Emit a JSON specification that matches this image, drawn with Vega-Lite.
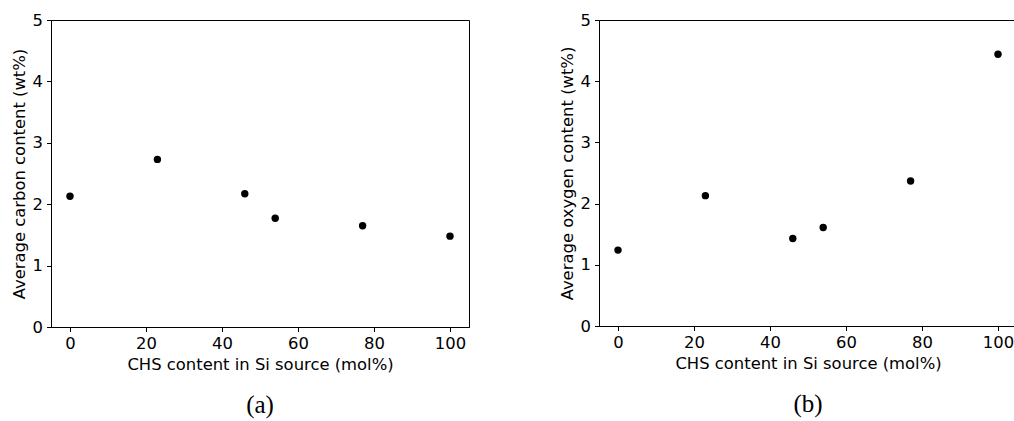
{
  "$schema": "https://vega.github.io/schema/vega-lite/v6.json",
  "padding": {"left": 10, "top": 11, "right": 0, "bottom": 0},
  "background": "white",
  "spacing": 88,
  "data": {"values": [
    {"chs": 0, "carbon": 2.13, "oxygen": 1.24},
    {"chs": 23, "carbon": 2.73, "oxygen": 2.13},
    {"chs": 46, "carbon": 2.17, "oxygen": 1.43},
    {"chs": 54, "carbon": 1.77, "oxygen": 1.61},
    {"chs": 77, "carbon": 1.65, "oxygen": 2.37},
    {"chs": 100, "carbon": 1.48, "oxygen": 4.44}
  ]},
  "config": {
    "view": {"stroke": "black", "strokeWidth": 1},
    "font": "DejaVu Sans",
    "axis": {
      "grid": false,
      "domainColor": "black",
      "domainWidth": 1,
      "tickColor": "black",
      "tickSize": 4.5,
      "labelFont": "DejaVu Sans",
      "labelFontSize": 16.4,
      "labelColor": "black",
      "labelPadding": 4,
      "titleFont": "DejaVu Sans",
      "titleFontSize": 16.4,
      "titleFontWeight": "normal",
      "titleColor": "black",
      "titlePadding": 5
    },
    "title": {"font": "Liberation Serif", "fontSize": 25, "fontWeight": "normal", "color": "black", "orient": "bottom", "anchor": "middle", "offset": 20}
  },
  "hconcat": [
    {
      "width": 418,
      "height": 307,
      "title": "(a)",
      "mark": {"type": "circle", "size": 55, "color": "black", "opacity": 1},
      "encoding": {
        "x": {"field": "chs", "type": "quantitative", "scale": {"domain": [-5, 105], "nice": false, "zero": false}, "axis": {"values": [0, 20, 40, 60, 80, 100], "title": "CHS content in Si source (mol%)"}},
        "y": {"field": "carbon", "type": "quantitative", "scale": {"domain": [0, 5], "nice": false}, "axis": {"values": [0, 1, 2, 3, 4, 5], "title": "Average carbon content (wt%)"}}
      }
    },
    {
      "width": 418,
      "height": 306,
      "title": "(b)",
      "mark": {"type": "circle", "size": 55, "color": "black", "opacity": 1},
      "encoding": {
        "x": {"field": "chs", "type": "quantitative", "scale": {"domain": [-5, 105], "nice": false, "zero": false}, "axis": {"values": [0, 20, 40, 60, 80, 100], "title": "CHS content in Si source (mol%)"}},
        "y": {"field": "oxygen", "type": "quantitative", "scale": {"domain": [0, 5], "nice": false}, "axis": {"values": [0, 1, 2, 3, 4, 5], "title": "Average oxygen content (wt%)"}}
      }
    }
  ]
}
